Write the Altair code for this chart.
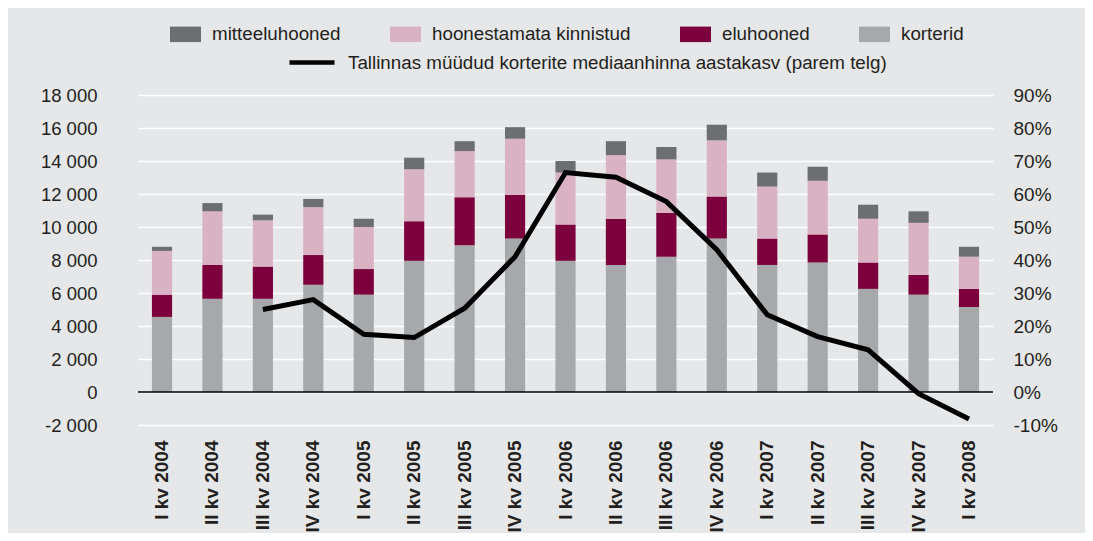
import altair as alt
import pandas as pd

quarters = ["I kv 2004", "II kv 2004", "III kv 2004", "IV kv 2004",
            "I kv 2005", "II kv 2005", "III kv 2005", "IV kv 2005",
            "I kv 2006", "II kv 2006", "III kv 2006", "IV kv 2006",
            "I kv 2007", "II kv 2007", "III kv 2007", "IV kv 2007",
            "I kv 2008"]
korterid = [4550, 5650, 5650, 6500, 5900, 7950, 8900, 9300,
            7950, 7700, 8200, 9300, 7700, 7850, 6250, 5900, 5150]
eluhooned = [1350, 2050, 1950, 1800, 1550, 2400, 2900, 2650,
             2200, 2800, 2650, 2550, 1600, 1700, 1600, 1200, 1100]
hoonestamata = [2650, 3250, 2800, 2900, 2550, 3150, 2800, 3400,
                3150, 3850, 3250, 3400, 3150, 3250, 2650, 3150, 1950]
mitteeluhooned = [250, 500, 350, 500, 500, 700, 600, 700,
                  700, 850, 750, 950, 850, 850, 850, 700, 600]
kasv = [None, None, 25.0, 28.0, 17.5, 16.5, 25.4, 41.0,
        66.5, 65.1, 57.7, 43.1, 23.4, 16.8, 12.8, -0.5, -8.2]

series_names = ["mitteeluhooned", "hoonestamata kinnistud", "eluhooned", "korterid"]
series_colors = ["#6d6e70", "#d9b3c4", "#7b003c", "#a7a8ab"]
line_name = "Tallinnas müüdud korterite mediaanhinna aastakasv (parem telg)"

rows = []
for i, q in enumerate(quarters):
    for name, vals, order in [("korterid", korterid, 0), ("eluhooned", eluhooned, 1),
                              ("hoonestamata kinnistud", hoonestamata, 2),
                              ("mitteeluhooned", mitteeluhooned, 3)]:
        rows.append({"kvartal": q, "seeria": name, "vaartus": vals[i], "jrk": order})
bar_df = pd.DataFrame(rows)
line_df = pd.DataFrame([{"kvartal": q, "pct": v, "seeria": line_name}
                        for q, v in zip(quarters, kasv) if v is not None])

FONT = "Liberation Sans"
TXT = "#231f20"

x_enc = alt.X("kvartal:N", sort=quarters,
              scale=alt.Scale(paddingInner=0.6, paddingOuter=0.276),
              axis=alt.Axis(title=None, labelAngle=-90, labelFontWeight="bold",
                            ticks=False, domain=False, labelPadding=15,
                            labelFontSize=19, labelFont=FONT, labelColor=TXT))

left_axis = alt.Axis(title=None, grid=True, gridColor="white", gridWidth=1.5,
                     domain=False, ticks=False, labelOverlap=False,
                     values=list(range(-2000, 18001, 2000)),
                     labelExpr="(datum.value < 0 ? '-' : '') + replace(format(abs(datum.value), ','), ',', ' ')",
                     labelPadding=41, labelFontSize=18.5, labelFont=FONT, labelColor=TXT)
left_scale = alt.Scale(domain=[-2000, 18000], nice=False)

bars = alt.Chart(bar_df).mark_bar().encode(
    x=x_enc,
    y=alt.Y("vaartus:Q", stack=True, scale=left_scale, axis=left_axis),
    color=alt.Color("seeria:N",
                    scale=alt.Scale(domain=series_names, range=series_colors),
                    legend=alt.Legend(title=None, orient="none", direction="horizontal",
                                      legendX=32, legendY=-76.5,
                                      symbolType="M-1,-0.5H1V0.5H-1Z", symbolSize=961,
                                      symbolStrokeWidth=0, symbolOpacity=1,
                                      labelOffset=11, columnPadding=49, labelLimit=0,
                                      labelFontSize=18.8, labelFont=FONT, labelColor=TXT,
                                      padding=0)),
    order=alt.Order("jrk:Q"),
)

zero = alt.Chart(pd.DataFrame({"y": [0]})).mark_rule(color="black", strokeWidth=1.5).encode(
    y=alt.Y("y:Q", scale=left_scale, axis=left_axis)
)

line = alt.Chart(line_df).mark_line(strokeWidth=5, color="black").encode(
    x=x_enc,
    y=alt.Y("pct:Q", scale=alt.Scale(domain=[-10, 90], nice=False),
            axis=alt.Axis(orient="right", title=None, grid=False, domain=False, ticks=False,
                          labelOverlap=False,
                          values=list(range(-10, 91, 10)),
                          labelExpr="datum.value + '%'",
                          labelPadding=20, labelFontSize=19, labelFont=FONT, labelColor=TXT)),
    stroke=alt.Stroke("seeria:N",
                      scale=alt.Scale(domain=[line_name], range=["black"]),
                      legend=alt.Legend(title=None, orient="none", direction="horizontal",
                                        legendX=149, legendY=-57.5,
                                        symbolType="stroke", symbolSize=2025,
                                        symbolStrokeWidth=4.5, labelOffset=11, labelLimit=0,
                                        labelFontSize=18.8, labelFont=FONT, labelColor=TXT,
                                        padding=0)),
)

chart = alt.layer(alt.layer(bars, zero), line).resolve_scale(y="independent").properties(
    width=855, height=330,
    padding={"left": 130, "top": 87, "right": 92, "bottom": 108},
    autosize=alt.AutoSizeParams(type="none"),
    background="#e6e7e8",
).configure_view(stroke=None)

chart.save("out.html", embed_options={"renderer": "svg", "actions": False})
